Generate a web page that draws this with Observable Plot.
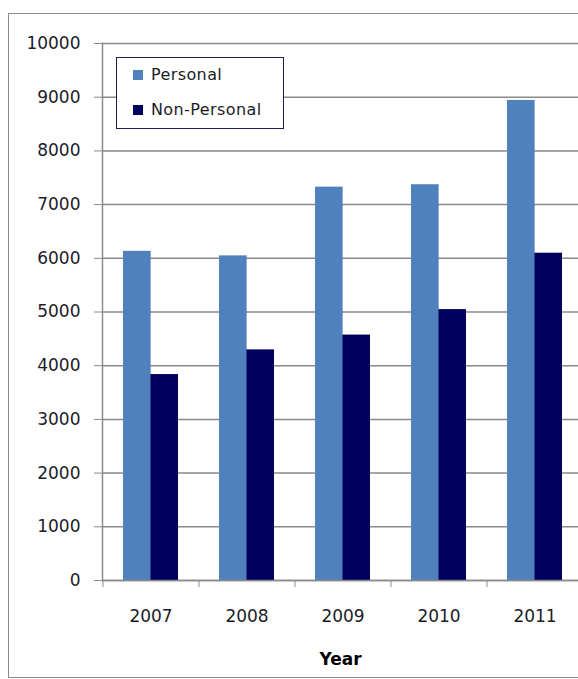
<!DOCTYPE html>
<html>
<head>
<meta charset="utf-8">
<script src="https://cdn.jsdelivr.net/npm/d3@7"></script>
<script src="https://cdn.jsdelivr.net/npm/@observablehq/plot@0.6"></script>
<style>
  html, body { margin: 0; padding: 0; background: #fff; overflow: hidden; width: 578px; height: 679px; }
  #wrap { position: relative; width: 578px; height: 679px; overflow: hidden; }
  #border { position: absolute; left: 8px; top: 13px; width: 590px; height: 665px; border: 1px solid #8c8c8c; box-sizing: border-box; }
  #chart { position: absolute; left: 0; top: 0; width: 578px; height: 679px; }
  #chart svg { max-width: none !important; overflow: hidden; }
  #chart [aria-label$="tick"] { stroke: #8a8a8a; }
  #chart [aria-label$="tick label"] { fill: #1c1c28; }
  #legend { position: absolute; left: 116px; top: 57px; width: 168px; height: 72px; box-sizing: border-box;
            border: 1.5px solid #1d1d5a; background: #fff; font-family: "DejaVu Sans", sans-serif;
            font-size: 16px; letter-spacing: 0.4px; color: #1c1c28; }
  .item { position: absolute; left: 16px; display: flex; align-items: center; }
  .sw { width: 10px; height: 10px; margin-right: 8px; }
</style>
</head>
<body>
<div id="wrap">
  <div id="border"></div>
  <div id="chart"></div>
  <div id="legend"></div>
</div>
<script>
const years = ["2007", "2008", "2009", "2010", "2011"];
const series = ["Personal", "Non-Personal"];
const personal = [6130, 6045, 7325, 7370, 8940];
const nonPersonal = [3835, 4295, 4570, 5045, 6095];
const colors = ["#4F81BD", "#00005E"];
const yTicks = [0, 1000, 2000, 3000, 4000, 5000, 6000, 7000, 8000, 9000, 10000];

const dataP = years.map((y, i) => ({year: y, series: series[0], value: personal[i]}));
const dataN = years.map((y, i) => ({year: y, series: series[1], value: nonPersonal[i]}));

const W = 578, H = 679;
const marginLeft = 102, marginRight = 0, marginTop = 43, marginBottom = 99;
const xRange = [102, 582];
const step = (xRange[1] - xRange[0]) / years.length;
const band = step * (1 - 0.43);

const chart = Plot.plot({
  width: W,
  height: H,
  marginLeft, marginRight, marginTop, marginBottom,
  style: {fontFamily: "DejaVu Sans, sans-serif", fontSize: "17px", background: "transparent", maxWidth: "none"},
  x: {type: "band", domain: years, range: xRange, paddingInner: 0.43, paddingOuter: 0.215, axis: null},
  y: {domain: [0, 10000], ticks: yTicks, axis: null},
  marks: [
    Plot.ruleY(yTicks, {stroke: "#8a8a8a", strokeWidth: 1.5}),
    Plot.barY(dataP, {x: "year", y: "value", fill: colors[0], insetRight: band / 2}),
    Plot.barY(dataN, {x: "year", y: "value", fill: colors[1], insetLeft: band / 2}),
    Plot.ruleY([0], {stroke: "#8a8a8a", strokeWidth: 1.5}),
    Plot.frame({anchor: "left", stroke: "#8a8a8a", strokeWidth: 1.5}),
    Plot.axisY({ticks: yTicks, tickSize: 8, tickPadding: 14, tickFormat: d => String(d),
                fontSize: 17, label: null, letterSpacing: 0.6}),
    Plot.axisX({tickSize: 7, tickFormat: () => "", dx: -step / 2, label: null}),
    Plot.axisX({tickSize: 0, tickPadding: 29, fontSize: 17, letterSpacing: 0.6,
                label: "Year", labelAnchor: "center", labelOffset: 84})
  ]
});
document.getElementById("chart").appendChild(chart);
d3.select(chart).selectAll('[aria-label="x-axis label"] text, [aria-label="x-axis label"]')
  .attr("font-weight", "bold");

const legend = document.getElementById("legend");
series.forEach((s, i) => {
  const it = document.createElement("div");
  it.className = "item";
  it.style.top = (i === 0 ? 7 : 42) + "px";
  const sw = document.createElement("div");
  sw.className = "sw";
  sw.style.background = colors[i];
  const tx = document.createElement("span");
  tx.textContent = s;
  it.appendChild(sw);
  it.appendChild(tx);
  legend.appendChild(it);
});
</script>
</body>
</html>
